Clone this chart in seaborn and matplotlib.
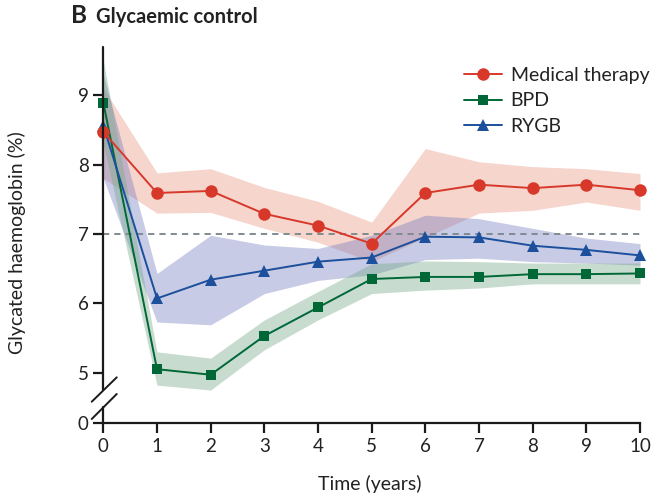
import numpy as np
import pandas as pd
import seaborn as sns
import matplotlib
matplotlib.use("Agg")
import matplotlib.pyplot as plt
from matplotlib.lines import Line2D

# ---- data ----
years = [0, 1, 2, 3, 4, 5, 6, 7, 8, 9, 10]
med = [8.47, 7.59, 7.62, 7.29, 7.12, 6.86, 7.59, 7.71, 7.66, 7.71, 7.63]
med_lo = [7.80, 7.30, 7.31, 7.08, 6.88, 6.60, 6.95, 7.30, 7.34, 7.46, 7.34]
med_hi = [9.10, 7.88, 7.94, 7.67, 7.47, 7.17, 8.23, 8.04, 7.97, 7.94, 7.87]
bpd = [8.89, 5.05, 4.97, 5.53, 5.94, 6.35, 6.38, 6.38, 6.42, 6.42, 6.43]
bpd_lo = [8.30, 4.82, 4.75, 5.33, 5.76, 6.14, 6.19, 6.22, 6.28, 6.28, 6.28]
bpd_hi = [9.50, 5.30, 5.21, 5.76, 6.17, 6.57, 6.61, 6.60, 6.58, 6.58, 6.58]
rygb = [8.56, 6.07, 6.34, 6.47, 6.60, 6.66, 6.96, 6.95, 6.83, 6.77, 6.69]
rygb_lo = [7.80, 5.73, 5.69, 6.14, 6.33, 6.41, 6.63, 6.65, 6.60, 6.58, 6.55]
rygb_hi = [9.30, 6.43, 6.98, 6.84, 6.79, 6.98, 7.27, 7.22, 7.08, 6.94, 6.86]
target = 7.0
groups = ["Medical therapy", "BPD", "RYGB"]
ytick_vals = [5, 6, 7, 8, 9]
xtick_vals = years

sns.set_theme(style="ticks")
plt.rcParams["font.family"] = ["Lato", "DejaVu Sans"]

RED, GREEN, BLUE = "#d8382a", "#006837", "#1c4f9c"
RED_F, GREEN_F, BLUE_F = (0.91, 0.57, 0.48), (0.46, 0.66, 0.53), (0.46, 0.49, 0.75)
TXT = "#222222"

fig = plt.figure(figsize=(6.71, 4.98), dpi=100)
ax = fig.add_axes([0.1540, 0.150, 0.7998, 0.755])

# bands
ax.fill_between(years, med_lo, med_hi, color=RED_F, alpha=0.38, lw=0, zorder=1)
ax.fill_between(years, rygb_lo, rygb_hi, color=BLUE_F, alpha=0.40, lw=0, zorder=1)
ax.fill_between(years, bpd_lo, bpd_hi, color=GREEN_F, alpha=0.40, lw=0, zorder=1)

# target line
ax.plot([years[0], years[-1]], [target, target], ls=(0, (3.2, 2.6)),
        color="#7f8b90", lw=1.4, zorder=2)

df = pd.DataFrame({"year": years * 3,
                   "value": bpd + rygb + med,
                   "group": ["BPD"] * 11 + ["RYGB"] * 11 + ["Medical therapy"] * 11})

styles = {"BPD": (GREEN, "s", 7.5), "RYGB": (BLUE, "^", 8.5),
          "Medical therapy": (RED, "o", 9)}
for g in ["BPD", "RYGB", "Medical therapy"]:
    c, m, ms = styles[g]
    sns.lineplot(data=df[df.group == g], x="year", y="value", ax=ax, color=c,
                 marker=m, markersize=ms, markeredgewidth=0, lw=1.4,
                 clip_on=False, zorder=3, legend=False)

# axes / broken y axis
y_bottom = 4.27
ax.set_xlim(0, 10)
ax.set_ylim(y_bottom, 9.69)
ax.set_yticks([y_bottom] + ytick_vals)
ax.set_yticklabels(["0"] + [str(v) for v in ytick_vals])
ax.set_xticks(xtick_vals)
ax.set_xticklabels([str(v) for v in xtick_vals])
for s in ["top", "right", "left"]:
    ax.spines[s].set_visible(False)
ax.spines["bottom"].set_linewidth(1.6)
ax.spines["bottom"].set_color("#1a1a1a")
ax.tick_params(axis="both", direction="out", length=7.5, width=1.6,
               color="#1a1a1a", labelsize=13.5, labelcolor=TXT, pad=3)

# left spine with gap and break marks
ax.axvline(0, ymin=0, ymax=0.043, color="#1a1a1a", lw=1.6, clip_on=False, zorder=4)
ax.axvline(0, ymin=0.088, ymax=1, color="#1a1a1a", lw=1.6, clip_on=False, zorder=4)
ax.plot([-0.0216, 0.025], [0.0574, 0.1223], transform=ax.transAxes,
        color="#1a1a1a", lw=1.4, clip_on=False, zorder=4)
ax.plot([-0.0216, 0.025], [0.0114, 0.078], transform=ax.transAxes,
        color="#1a1a1a", lw=1.4, clip_on=False, zorder=4)

ax.set_xlabel("Time (years)", fontsize=14, color=TXT)
ax.set_ylabel("Glycated haemoglobin (%)", fontsize=14, color=TXT)
ax.xaxis.set_label_coords(0.497, -0.138)
ax.yaxis.set_label_coords(-0.145, 0.48)

# legend
handles = [Line2D([], [], color=styles[g][0], marker=styles[g][1],
                  markersize=styles[g][2], markeredgewidth=0, lw=1.4) for g in groups]
ax.legend(handles, groups, loc="upper left", bbox_to_anchor=(0.672, 0.947),
          frameon=False, fontsize=14, handlelength=1.95, handletextpad=0.45,
          labelspacing=0.42, borderaxespad=0, borderpad=0, labelcolor=TXT)

# title
fig.text(0.106, 0.954, "B", fontsize=17.5, fontweight="bold", color=TXT, va="baseline")
fig.text(0.143, 0.954, "Glycaemic control", fontsize=14.5, fontweight="bold",
         color=TXT, va="baseline")

fig.savefig("out.png", dpi=100)
